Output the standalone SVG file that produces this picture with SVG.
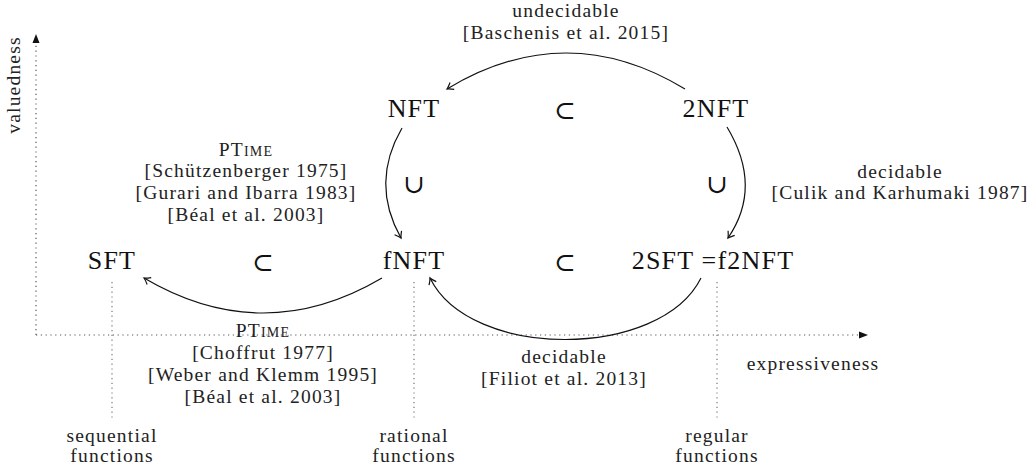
<svg xmlns="http://www.w3.org/2000/svg" width="1032" height="468" viewBox="0 0 1032 468">
<style>
.lbl{font-family:"Liberation Serif","DejaVu Serif",serif;font-size:19.5px;letter-spacing:1.2px;fill:#222;text-anchor:middle}
.node{font-family:"Liberation Serif","DejaVu Serif",serif;font-size:26px;letter-spacing:1.2px;fill:#111;text-anchor:middle}
.sym{font-family:"Liberation Serif","DejaVu Serif",serif;font-size:26px;fill:#111;text-anchor:middle}
.sc{font-variant:small-caps}
.axis{stroke:#555;stroke-width:1.2;stroke-dasharray:1.2 3.6;fill:none}
.guide{stroke:#777;stroke-width:1.2;stroke-dasharray:1.2 3.6;fill:none}
.arc{stroke:#111;stroke-width:1.2;fill:none;marker-end:url(#to)}
</style>
<defs>
<marker id="to" markerUnits="userSpaceOnUse" viewBox="-7 -5 9 10" refX="0" refY="0" markerWidth="9" markerHeight="10" orient="auto">
<path d="M-6,-4 Q-2,-0.8 0,0 Q-2,0.8 -6,4" stroke="#111" stroke-width="1.2" fill="none"/>
</marker>
</defs>

<g id="axes">
<line class="axis" x1="36" y1="335" x2="36" y2="40"/>
<path d="M32.5,43 L36,34 L39.5,43 Z" fill="#111"/>
<line class="axis" x1="36" y1="335" x2="860" y2="335"/>
<path d="M859,331.5 L868,335 L859,338.5 Z" fill="#111"/>
<text class="lbl" transform="translate(20,85) rotate(-90)">valuedness</text>
<text class="lbl" x="813" y="370">expressiveness</text>
</g>

<g id="guides">
<line class="guide" x1="112" y1="282" x2="112" y2="418"/>
<line class="guide" x1="414" y1="282" x2="414" y2="418"/>
<line class="guide" x1="717" y1="282" x2="717" y2="418"/>
<text class="lbl" x="112" y="442">sequential</text>
<text class="lbl" x="112" y="462">functions</text>
<text class="lbl" x="414" y="442">rational</text>
<text class="lbl" x="414" y="462">functions</text>
<text class="lbl" x="717" y="442">regular</text>
<text class="lbl" x="717" y="462">functions</text>
</g>

<g id="node-NFT"><text class="node" x="414" y="117">NFT</text></g>
<g id="node-2NFT"><text class="node" x="716" y="117">2NFT</text></g>
<g id="node-SFT"><text class="node" x="112" y="269">SFT</text></g>
<g id="node-fNFT"><text class="node" x="414" y="269">fNFT</text></g>
<g id="node-2SFT"><text class="node" x="713" y="269">2SFT =f2NFT</text></g>

<g id="relations">
<text class="sym" x="565" y="119">⊂</text>
<text class="sym" x="263" y="271">⊂</text>
<text class="sym" x="565" y="271">⊂</text>
<text class="sym" x="414" y="193">∪</text>
<text class="sym" x="717" y="193">∪</text>
</g>

<g id="connectors">
<path class="arc" d="M685,89 Q566,17 447,89"/>
<path class="arc" d="M402,128 Q370,183 401,238"/>
<path class="arc" d="M727,127 Q763,187 728,238"/>
<path class="arc" d="M382,278 Q263,348 144,278"/>
<path class="arc" d="M701,278 C660,360 470,360 430,278"/>
</g>

<g id="edge-labels">
<text class="lbl" x="566" y="17">undecidable</text>
<text class="lbl" x="566" y="39">[Baschenis et al. 2015]</text>
<text class="lbl sc" x="246" y="156">PTime</text>
<text class="lbl" x="246" y="177">[Schützenberger 1975]</text>
<text class="lbl" x="246" y="199">[Gurari and Ibarra 1983]</text>
<text class="lbl" x="246" y="221">[Béal et al. 2003]</text>
<text class="lbl" x="900" y="178">decidable</text>
<text class="lbl" x="900" y="199">[Culik and Karhumaki 1987]</text>
<text class="lbl sc" x="263" y="337">PTime</text>
<text class="lbl" x="263" y="359">[Choffrut 1977]</text>
<text class="lbl" x="263" y="381">[Weber and Klemm 1995]</text>
<text class="lbl" x="263" y="403">[Béal et al. 2003]</text>
<text class="lbl" x="564" y="363">decidable</text>
<text class="lbl" x="564" y="385">[Filiot et al. 2013]</text>
</g>
</svg>
